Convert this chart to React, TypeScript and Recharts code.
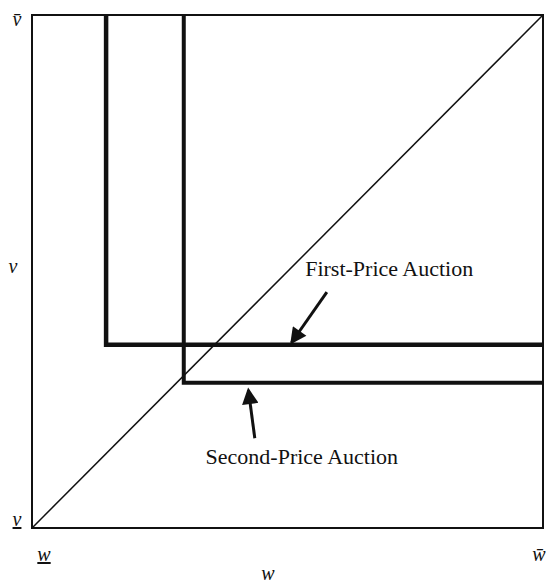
import {
  LineChart,
  Line,
  XAxis,
  YAxis,
  ReferenceArea,
  ReferenceLine,
  ReferenceDot,
} from "recharts";

// bid (w) and value (v) are both normalised to [0, 1]
const wTicks = [0, 1];
const wTickLabels = ["w", "w\u0304"];
const vTicks = [0, 1];
const vTickLabels = ["v", "v\u0304"];

const diagonalW = [0, 1];
const diagonalV = [0, 1];
const firstPriceW = [0.145, 0.145, 1];
const firstPriceV = [1, 0.357, 0.357];
const secondPriceW = [0.297, 0.297, 1];
const secondPriceV = [1, 0.283, 0.283];

const ink = "#111";
const serif = "'Liberation Serif', 'Times New Roman', serif";

const toPoints = (ws: number[], vs: number[]) => ws.map((w, i) => ({ w, v: vs[i] }));

// annotation arrows: tail -> head, in (w, v)
const firstArrow = [
  { x: 0.577, y: 0.46 },
  { x: 0.508, y: 0.3616 },
];
const secondArrow = [
  { x: 0.436, y: 0.175 },
  { x: 0.4235, y: 0.269 },
];

function WTick(props: any) {
  const { x, y, payload, index } = props;
  const isMin = payload.value === 0;
  return (
    <text
      x={x + (isMin ? 12 : -4)}
      y={y + 33}
      textAnchor="middle"
      fontFamily={serif}
      fontStyle="italic"
      fontSize={20}
      fill={ink}
      style={isMin ? { textDecoration: "underline" } : undefined}
    >
      {wTickLabels[index]}
    </text>
  );
}

function VTick(props: any) {
  const { x, y, payload, index } = props;
  const isMin = payload.value === 0;
  return (
    <text
      x={x - 15}
      y={isMin ? y - 2 : y + 11}
      textAnchor="middle"
      fontFamily={serif}
      fontStyle="italic"
      fontSize={20}
      fill={ink}
      style={isMin ? { textDecoration: "underline" } : undefined}
    >
      {vTickLabels[index]}
    </text>
  );
}

const axisTitle = (text: string, dx: number, dy: number) => (p: any) => {
  const vb = p.viewBox;
  return (
    <text
      x={vb.x + dx}
      y={vb.y + dy(vb)}
      textAnchor="middle"
      fontFamily={serif}
      fontStyle="italic"
      fontSize={20}
      fill={ink}
    >
      {text}
    </text>
  );
};

export default function App() {
  return (
    <div style={{ position: "absolute", left: 0, top: 0, background: "#fff" }}>
      <svg width={0} height={0} style={{ position: "absolute" }}>
        <defs>
          <marker
            id="arrowHead"
            viewBox="0 0 10 10"
            refX={8.5}
            refY={5}
            markerWidth={7}
            markerHeight={5.5}
            orient="auto"
            markerUnits="strokeWidth"
          >
            <path d="M0,0 L10,5 L0,10 z" fill={ink} />
          </marker>
        </defs>
      </svg>
      <LineChart width={546} height={586} margin={{ top: 15, right: 3, bottom: 0, left: 0 }}>
        <XAxis
          dataKey="w"
          type="number"
          domain={[0, 1]}
          ticks={wTicks}
          height={58}
          axisLine={false}
          tickLine={false}
          tickSize={0}
          tickMargin={0}
          tick={<WTick />}
          interval={0}
          allowDataOverflow
          label={{ content: axisTitle("w", 236, () => 52) as any }}
        />
        <YAxis
          dataKey="v"
          type="number"
          domain={[0, 1]}
          ticks={vTicks}
          width={32}
          axisLine={false}
          tickLine={false}
          tickSize={0}
          tickMargin={0}
          tick={<VTick />}
          interval={0}
          allowDataOverflow
          label={{ content: axisTitle("v", 13, (vb: any) => vb.height / 2 + 1) as any }}
        />
        <ReferenceArea x1={0} x2={1} y1={0} y2={1} fill="none" stroke={ink} strokeWidth={2} />
        <Line
          data={toPoints(diagonalW, diagonalV)}
          dataKey="v"
          type="linear"
          stroke={ink}
          strokeWidth={1.5}
          dot={false}
          activeDot={false}
          isAnimationActive={false}
        />
        <Line
          data={toPoints(firstPriceW, firstPriceV)}
          dataKey="v"
          type="linear"
          stroke={ink}
          strokeWidth={4.5}
          strokeLinejoin="miter"
          dot={false}
          activeDot={false}
          isAnimationActive={false}
        />
        <Line
          data={toPoints(secondPriceW, secondPriceV)}
          dataKey="v"
          type="linear"
          stroke={ink}
          strokeWidth={4}
          strokeLinejoin="miter"
          dot={false}
          activeDot={false}
          isAnimationActive={false}
        />
        <ReferenceLine segment={firstArrow} stroke={ink} strokeWidth={3} markerEnd="url(#arrowHead)" />
        <ReferenceLine segment={secondArrow} stroke={ink} strokeWidth={3} markerEnd="url(#arrowHead)" />
        <ReferenceDot
          x={0.699}
          y={0.507}
          r={0}
          fill="none"
          stroke="none"
          label={{ value: "First-Price Auction", position: "center", fontFamily: serif, fontSize: 22, fill: ink }}
        />
        <ReferenceDot
          x={0.528}
          y={0.14}
          r={0}
          fill="none"
          stroke="none"
          label={{ value: "Second-Price Auction", position: "center", fontFamily: serif, fontSize: 22, fill: ink }}
        />
      </LineChart>
    </div>
  );
}
